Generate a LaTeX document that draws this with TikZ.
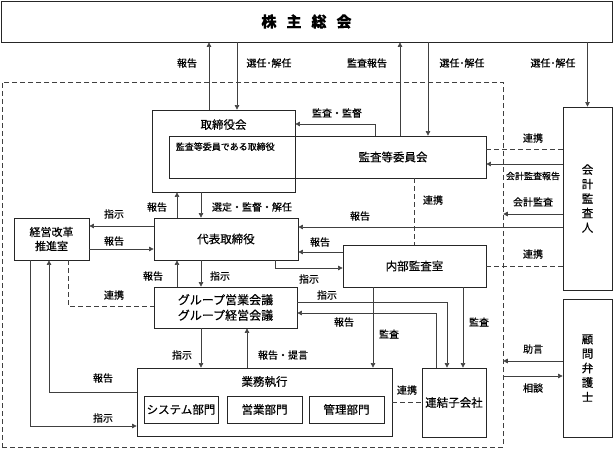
\documentclass[tikz,border=0pt]{standalone}
\usepackage{fontspec}
\setmainfont{Noto Sans CJK JP}[FakeBold=0.4]
\usetikzlibrary{arrows.meta}

\begin{document}
\begin{tikzpicture}[x=1pt,y=-1pt]
        \tikzset{box/.style = {draw=black!85, line width=0.8pt, inner sep=0pt, align=center, font=\fontsize{11.5}{14.5}\selectfont}}
        \tikzset{head/.style = {inner sep=0pt, font=\fontsize{11.5}{14}\selectfont}}
        \tikzset{tag/.style = {inner sep=0pt, font=\fontsize{10}{12}\selectfont}}
        \tikzset{edge/.style = {-{Triangle[length=4.5pt,width=4.5pt]}, draw=black!75, line width=0.6pt}}
        \tikzset{link/.style = {draw=black!75, line width=0.6pt, dash pattern=on 5pt off 3pt}}
        \useasboundingbox (0,0) rectangle (614,452);
        % frame
        \node[link, minimum width=501pt, minimum height=365pt] (frame) at (252.5,264.5) {};
        % boxes
        \node[box, minimum width=611pt, minimum height=41pt, font=\fontsize{15}{18}\selectfont\bfseries] (kabunushi) at (306.5,21.5) {株\hspace{10pt}主\hspace{10pt}総\hspace{10pt}会};
        \node[box, minimum width=317pt, minimum height=42pt] (kansa) at (327.5,157) {};
        \node[head] at ([xshift=65.5pt]kansa.center) {監査等委員会};
        \node[head, anchor=west, font=\fontsize{9}{11}\selectfont] at ([xshift=7pt,yshift=-11pt]kansa.north west) {監査等委員である取締役};
        \node[box, minimum width=143pt, minimum height=82pt] (torishimari) at (223.5,151) {};
        \node[head] at ([yshift=-15pt]torishimari.north) {取締役会};
        \node[box, minimum width=49pt, minimum height=183pt] (kaikei) at (587.5,198.5) {会\\計\\監\\査\\人};
        \node[box, minimum width=49pt, minimum height=138pt] (komon) at (587.5,368) {顧\\問\\弁\\護\\士};
        \node[box, minimum width=144pt, minimum height=42pt] (daihyo) at (226,239) {代表取締役};
        \node[box, minimum width=75pt, minimum height=42pt, font=\fontsize{11}{14}\selectfont] (keiei) at (51.5,239) {経営改革\\推進室};
        \node[box, minimum width=143pt, minimum height=42pt] (naibu) at (414.5,266) {内部監査室};
        \node[box, minimum width=143pt, minimum height=41pt, font=\fontsize{12}{15.5}\selectfont] (group) at (225.5,307.5) {グループ営業会議\\グループ経営会議};
        \node[box, minimum width=255pt, minimum height=68pt] (gyomu) at (264.5,402) {};
        \node[head] at ([yshift=-14pt]gyomu.north) {業務執行};
        \node[box, minimum width=74pt, minimum height=27pt] (system) at (181,409.5) {システム部門};
        \node[box, minimum width=75pt, minimum height=27pt] (eigyo) at (264.5,409.5) {営業部門};
        \node[box, minimum width=75pt, minimum height=27pt] (kanri) at (346.5,409.5) {管理部門};
        \node[box, minimum width=64pt, minimum height=69pt] (renketsu) at (454,402.5) {連結子会社};
        % shareholders
        \draw[edge] (torishimari.north -| 209,0) -- (kabunushi.south -| 209,0) node[tag] at (187,63) {報告};
        \draw[edge] (kabunushi.south -| 237,0) -- (torishimari.north -| 237,0) node[tag] at (269,63) {選任･解任};
        \draw[edge] (kansa.north -| 400,0) -- (kabunushi.south -| 400,0) node[tag] at (367,63) {監査報告};
        \draw[edge] (kabunushi.south -| 428,0) -- (kansa.north -| 428,0) node[tag] at (462,63) {選任･解任};
        \draw[edge] (kabunushi.south -| 587.5,0) -- (kaikei.north) node[tag] at (553,63) {選任･解任};
        % board
        \draw[edge] (kansa.north -| 375,0) |- (torishimari.east |- 0,124) node[tag] at (337,113) {監査・監督};
        \draw[edge] (daihyo.north -| 177,0) -- (torishimari.south -| 177,0) node[tag] at (157,207) {報告};
        \draw[edge] (torishimari.south -| 201,0) -- (daihyo.north -| 201,0) node[tag] at (252,207) {選定・監督・解任};
        \draw[edge] (daihyo.west |- 0,226) -- (keiei.east |- 0,226) node[tag] at (114,214) {指示};
        \draw[edge] (keiei.east |- 0,249) -- (daihyo.west |- 0,249) node[tag] at (114,241) {報告};
        % auditor
        \draw[link] (kansa.east |- 0,149) -- (kaikei.west |- 0,149) node[tag] at (533,138) {連携};
        \draw[edge] (kaikei.west |- 0,164) -- (kansa.east |- 0,164) node[tag, font=\fontsize{9}{11}\selectfont] at (533,176) {会計監査報告};
        \draw[edge] (kaikei.west |- 0,214) -- (frame.east |- 0,214) node[tag] at (533,202) {会計監査};
        \draw[edge] (kaikei.west |- 0,227) -- (daihyo.east |- 0,227) node[tag] at (360,216) {報告};
        \draw[link] (naibu.east) -- (kaikei.west |- naibu.east) node[tag] at (533,254) {連携};
        % internal audit
        \draw[link] (kansa.south -| naibu.north) -- (naibu.north) node[tag] at (433,200) {連携};
        \draw[edge] (naibu.west |- 0,252) -- (daihyo.east |- 0,252) node[tag] at (320,242) {報告};
        \draw[edge] (daihyo.south -| 275,0) |- (naibu.west |- 0,268) node[tag] at (309,279) {指示};
        \draw[edge] (naibu.south -| 373,0) -- (gyomu.north -| 373,0) node[tag] at (389,334) {監査};
        \draw[edge] (naibu.south -| 463,0) -- (renketsu.north -| 463,0) node[tag] at (479,322) {監査};
        % meetings
        \draw[edge] (group.north -| 177,0) -- (daihyo.south -| 177,0) node[tag] at (153,276) {報告};
        \draw[edge] (daihyo.south -| 201,0) -- (group.north -| 201,0) node[tag] at (220,276) {指示};
        \draw[link] (keiei.south -| 68,0) |- (group.west |- 0,306) node[tag] at (114,295) {連携};
        \draw[edge] (group.south -| 201,0) -- (gyomu.north -| 201,0) node[tag] at (182,355) {指示};
        \draw[edge] (gyomu.north -| 247,0) -- (group.south -| 247,0) node[tag] at (283,355) {報告・提言};
        \draw[edge] (group.east |- 0,302) -| (renketsu.north -| 447,0) node[tag] at (327,295) {指示};
        \draw[edge] (renketsu.north -| 436,0) |- (group.east |- 0,313) node[tag] at (344,322) {報告};
        % operations
        \draw[edge] (gyomu.west |- 0,392) -| (keiei.south -| 49,0) node[tag] at (103,378) {報告};
        \draw[edge] (keiei.south -| 30,0) |- (gyomu.west |- 0,426) node[tag] at (103,418) {指示};
        \draw[link] (gyomu.east |- 0,402) -- (renketsu.west |- 0,402) node[tag] at (407,390) {連携};
        % lawyer
        \draw[edge] (komon.west |- 0,361) -- (frame.east |- 0,361) node[tag] at (533,349) {助言};
        \draw[edge] (frame.east |- 0,376) -- (komon.west |- 0,376) node[tag] at (533,388) {相談};
\end{tikzpicture}
\end{document}
